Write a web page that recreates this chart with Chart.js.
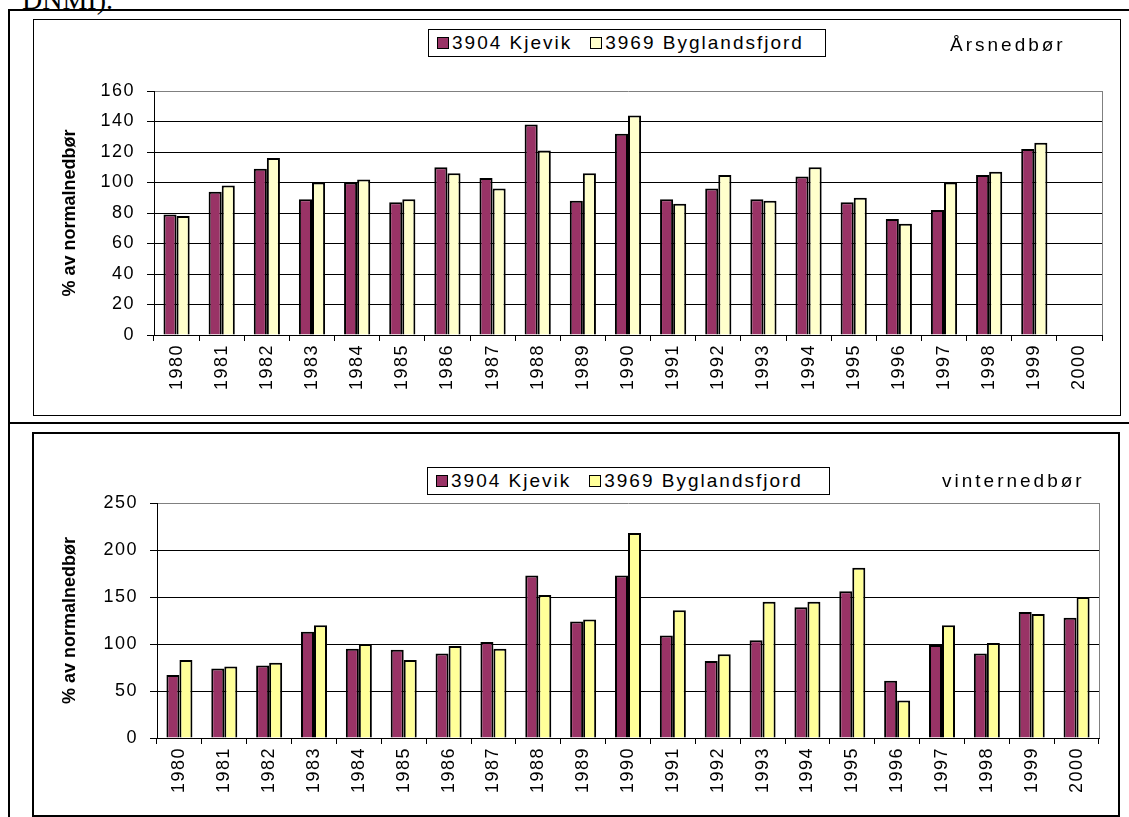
<!DOCTYPE html>
<html>
<head>
<meta charset="utf-8">
<script src="https://cdn.jsdelivr.net/npm/chart.js@4.4.1/dist/chart.umd.min.js"></script>
<style>
  body { margin: 0; width: 1129px; height: 817px; overflow: hidden; background: #fff; position: relative;
         font-family: "Liberation Sans", Arial, sans-serif; color: #000; }
  .rule { position: absolute; background: #000; }
  .frame { position: absolute; box-sizing: border-box; background: #fff; }
  .frame canvas { display: block; }
  .legend { position: absolute; box-sizing: border-box; border: 1px solid #000; background: #fff;
            display: flex; align-items: center; padding-left: 8px; font-size: 19px; letter-spacing: 2px; white-space: nowrap; }
  .legend .item { display: flex; align-items: center; margin-right: 18px; }
  .legend .sw { display: inline-block; box-sizing: border-box; width: 12px; height: 12px; border: 1.5px solid #000; margin-right: 3px; }
  .tag { position: absolute; font-size: 19px; letter-spacing: 3px; line-height: 20px; white-space: nowrap; }
  .note { position: absolute; left: 22px; top: -14px; font-family: "Liberation Serif", "Times New Roman", serif; font-size: 28px; line-height: 28px; }
</style>
</head>
<body>
<div class="note">DNMI).</div>
<div class="rule" style="left:8px;top:9px;width:1121px;height:2px"></div>
<div class="rule" style="left:8px;top:9px;width:2px;height:808px"></div>
<div class="rule" style="left:8px;top:422px;width:1121px;height:2px"></div>

<div class="frame" style="left:33px;top:19px;width:1088px;height:397px;border:1px solid #000">
  <canvas id="aarChart" width="1086" height="395"></canvas>
</div>
<div class="frame" style="left:32px;top:432px;width:1088px;height:385px;border:2px solid #000">
  <canvas id="vinChart" width="1084" height="381"></canvas>
</div>

<div class="legend" id="aarLegend" style="left:428px;top:29px;width:398px;height:28px"></div>
<div class="tag" style="left:950px;top:35px">Årsnedbør</div>
<div class="legend" id="vinLegend" style="left:427px;top:467px;width:403px;height:28px"></div>
<div class="tag" style="left:942px;top:471px">vinternedbør</div>

<script>
// årstall (kategorier)
const years = ['1980', '1981', '1982', '1983', '1984', '1985', '1986', '1987', '1988', '1989', '1990',
               '1991', '1992', '1993', '1994', '1995', '1996', '1997', '1998', '1999', '2000'];
const seriesNames = ['3904 Kjevik', '3969 Byglandsfjord'];

// Årsnedbør, % av normalnedbør
const aarKjevik = [79, 94, 109, 89, 100, 87, 110, 103, 138, 88, 132, 89, 96, 89, 104, 87, 76, 82, 105, 122, null];
const aarBygland = [78, 98, 116, 100, 102, 89, 106, 96, 121, 106, 144, 86, 105, 88, 110, 90, 73, 100, 107, 126, null];
const aarTicks = [0, 20, 40, 60, 80, 100, 120, 140, 160];

// vinternedbør, % av normalnedbør
const vinKjevik = [67, 74, 77, 113, 95, 94, 90, 102, 173, 124, 173, 109, 82, 104, 139, 156, 61, 99, 90, 134, 128];
const vinBygland = [83, 76, 80, 120, 100, 83, 98, 95, 152, 126, 218, 136, 89, 145, 145, 181, 40, 120, 101, 132, 150];
const vinTicks = [0, 50, 100, 150, 200, 250];

const kjevikColor = '#993366';
const fontFamily = '"Liberation Sans", Arial, sans-serif';

// letter spacing only for tick labels (drawn after datasets), grey plot border on the right
const excelLook = {
  id: 'excelLook',
  beforeDraw(chart) {
    chart.ctx.letterSpacing = '0px';
  },
  beforeDatasetsDraw(chart) {
    const ctx = chart.ctx;
    const a = chart.chartArea;
    const x = Math.round(a.right) + 0.5;
    ctx.save();
    ctx.strokeStyle = '#808080';
    ctx.lineWidth = 1;
    ctx.beginPath();
    ctx.moveTo(x, Math.round(a.top));
    ctx.lineTo(x, Math.round(a.bottom));
    ctx.stroke();
    ctx.restore();
    ctx.letterSpacing = '1.5px';
  }
};

function makeLegend(id, colors) {
  const el = document.getElementById(id);
  seriesNames.forEach(function (name, i) {
    const item = document.createElement('span');
    item.className = 'item';
    const sw = document.createElement('span');
    sw.className = 'sw';
    sw.style.background = colors[i];
    item.appendChild(sw);
    item.appendChild(document.createTextNode(name));
    el.appendChild(item);
  });
}

function makeChart(id, set1, set2, yellow, ticks, geo) {
  const top = ticks[ticks.length - 1];
  return new Chart(document.getElementById(id), {
    type: 'bar',
    data: {
      labels: years,
      datasets: [
        { label: seriesNames[0], data: set1, backgroundColor: kjevikColor, borderColor: '#000', borderWidth: 2 },
        { label: seriesNames[1], data: set2, backgroundColor: yellow, borderColor: '#000', borderWidth: 2 }
      ]
    },
    options: {
      responsive: false,
      animation: false,
      devicePixelRatio: 1,
      layout: { padding: { top: geo.top, right: geo.right, left: 0, bottom: 0 } },
      datasets: { bar: { categoryPercentage: 0.58, barPercentage: 1 } },
      plugins: { legend: { display: false }, tooltip: { enabled: false } },
      scales: {
        x: {
          offset: true,
          grid: { display: true, offset: true, drawOnChartArea: false, drawTicks: true, tickLength: 6, tickColor: '#000' },
          border: { color: '#000', width: 1 },
          ticks: { autoSkip: false, minRotation: 90, maxRotation: 90, padding: 3, color: '#000', z: 1,
                   font: { family: fontFamily, size: 18 } },
          afterFit: function (s) { s.height = geo.xHeight; }
        },
        y: {
          min: ticks[0],
          max: top,
          afterBuildTicks: function (s) { s.ticks = ticks.map(v => ({ value: v })); },
          grid: {
            color: c => (c.tick && c.tick.value === top ? '#808080' : '#000'),
            tickColor: '#000', tickLength: 7, lineWidth: 1
          },
          border: { color: '#000', width: 1 },
          ticks: { padding: 12, color: '#000', z: 1, font: { family: fontFamily, size: 18 } },
          title: { display: true, text: '% av normalnedbør', color: '#000', padding: { top: 25, bottom: 0 },
                   font: { family: fontFamily, size: 18, weight: 'bold' } },
          afterFit: function (s) { s.width = geo.yWidth; }
        }
      }
    },
    plugins: [excelLook]
  });
}

makeLegend('aarLegend', [kjevikColor, '#FFFFCC']);
makeLegend('vinLegend', [kjevikColor, '#FFFF99']);

makeChart('aarChart', aarKjevik, aarBygland, '#FFFFCC', aarTicks, { top: 71, right: 18, yWidth: 120, xHeight: 80 });
makeChart('vinChart', vinKjevik, vinBygland, '#FFFF99', vinTicks, { top: 69, right: 19, yWidth: 123, xHeight: 77 });
</script>
</body>
</html>
